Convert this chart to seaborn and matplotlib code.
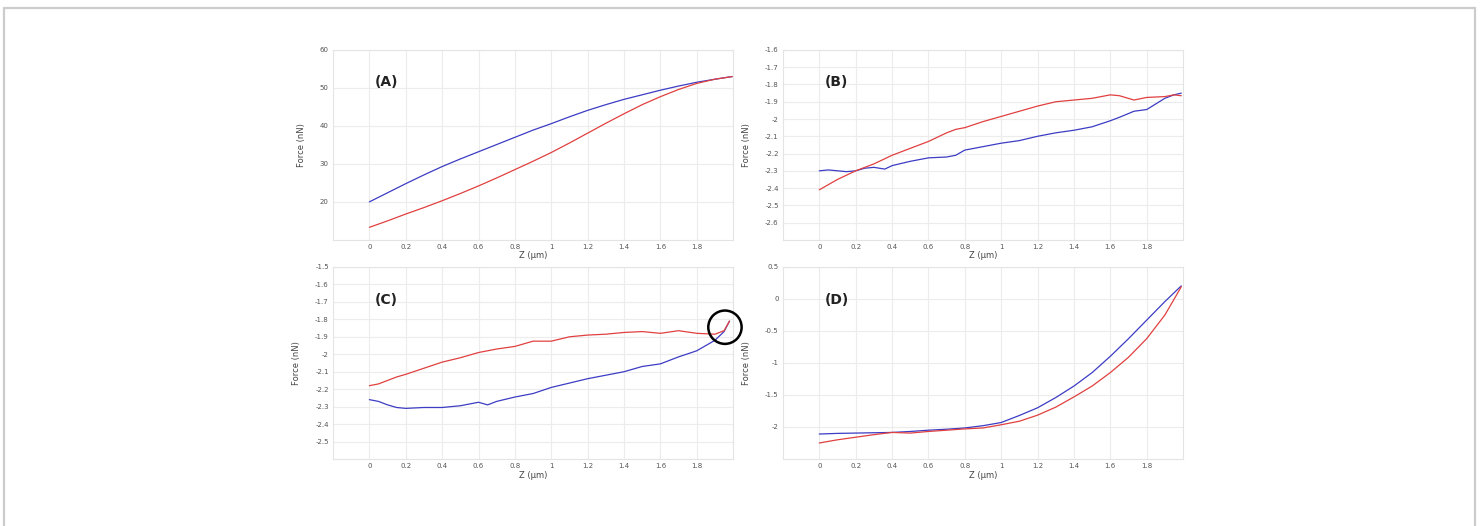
import numpy as np
import pandas as pd
import matplotlib
matplotlib.use("Agg")
import matplotlib.pyplot as plt
import seaborn as sns
from matplotlib.patches import Rectangle
from matplotlib.ticker import FuncFormatter

BLUE = '#3c3cc4'
RED = '#e0403f'

# (A) smooth approach / retract curves
z_a = [0.0, 0.1, 0.2, 0.3, 0.4, 0.5, 0.6, 0.7, 0.8, 0.9, 1.0,
       1.1, 1.2, 1.3, 1.4, 1.5, 1.6, 1.7, 1.8, 1.9, 1.995]
approach_a = [20.0, 22.4, 24.8, 27.1, 29.3, 31.3, 33.2, 35.1, 37.0, 38.9, 40.6,
              42.4, 44.1, 45.6, 47.0, 48.2, 49.4, 50.5, 51.5, 52.3, 53.0]
retract_a = [13.3, 15.0, 16.8, 18.5, 20.3, 22.2, 24.2, 26.3, 28.5, 30.7, 33.0,
             35.5, 38.1, 40.7, 43.2, 45.6, 47.7, 49.6, 51.2, 52.3, 53.0]

# (B)
z_b = [0.0, 0.05, 0.1, 0.15, 0.2, 0.25, 0.3, 0.36, 0.4, 0.5, 0.6, 0.7, 0.75, 0.8,
       0.9, 1.0, 1.1, 1.2, 1.3, 1.4, 1.5, 1.6, 1.65, 1.73, 1.8, 1.9, 1.95, 1.99]
approach_b = [-2.300, -2.295, -2.300, -2.305, -2.300, -2.285, -2.280, -2.290, -2.270,
              -2.245, -2.225, -2.220, -2.210, -2.180, -2.160, -2.140, -2.125, -2.100,
              -2.080, -2.065, -2.045, -2.010, -1.990, -1.955, -1.945, -1.880, -1.860, -1.850]
retract_b = [-2.410, -2.380, -2.350, -2.325, -2.300, -2.280, -2.260, -2.230, -2.210,
             -2.170, -2.130, -2.080, -2.060, -2.050, -2.015, -1.985, -1.955, -1.925,
             -1.900, -1.890, -1.880, -1.860, -1.865, -1.890, -1.875, -1.870, -1.860, -1.865]

# (C)
z_c = [0.0, 0.05, 0.1, 0.15, 0.2, 0.3, 0.4, 0.5, 0.6, 0.65, 0.7, 0.8, 0.9, 1.0,
       1.1, 1.2, 1.3, 1.4, 1.5, 1.6, 1.7, 1.8, 1.9, 1.95, 1.98]
approach_c = [-2.260, -2.270, -2.290, -2.305, -2.310, -2.305, -2.305, -2.295, -2.275,
              -2.290, -2.270, -2.245, -2.225, -2.190, -2.165, -2.140, -2.120, -2.100,
              -2.070, -2.055, -2.015, -1.980, -1.920, -1.870, -1.810]
retract_c = [-2.180, -2.170, -2.150, -2.130, -2.115, -2.080, -2.045, -2.020, -1.990,
             -1.980, -1.970, -1.955, -1.925, -1.925, -1.900, -1.890, -1.885, -1.875,
             -1.870, -1.880, -1.865, -1.880, -1.885, -1.865, -1.810]
circle_z, circle_f = 1.955, -1.845

# (D)
z_d = [0.0, 0.1, 0.2, 0.3, 0.4, 0.5, 0.6, 0.7, 0.8, 0.9, 1.0,
       1.1, 1.2, 1.3, 1.4, 1.5, 1.6, 1.7, 1.8, 1.9, 1.99]
approach_d = [-2.110, -2.100, -2.095, -2.090, -2.085, -2.070, -2.050, -2.035, -2.015,
              -1.980, -1.930, -1.820, -1.700, -1.540, -1.360, -1.150, -0.895, -0.620,
              -0.330, -0.040, 0.205]
retract_d = [-2.250, -2.200, -2.160, -2.120, -2.085, -2.095, -2.070, -2.050, -2.030,
             -2.015, -1.965, -1.910, -1.815, -1.690, -1.530, -1.360, -1.150, -0.910,
             -0.620, -0.250, 0.190]

x_ticks = [0, 0.2, 0.4, 0.6, 0.8, 1, 1.2, 1.4, 1.6, 1.8]

panels = [
    ('(A)', z_a, approach_a, retract_a, (10, 60), [20, 30, 40, 50, 60]),
    ('(B)', z_b, approach_b, retract_b, (-2.7, -1.6), list(np.round(np.arange(-2.6, -1.55, 0.1), 1))),
    ('(C)', z_c, approach_c, retract_c, (-2.6, -1.5), list(np.round(np.arange(-2.5, -1.45, 0.1), 1))),
    ('(D)', z_d, approach_d, retract_d, (-2.5, 0.5), [-2, -1.5, -1, -0.5, 0, 0.5]),
]

sns.set_style('white')
plt.rcParams['font.family'] = ['DejaVu Sans']

fig = plt.figure(figsize=(14.82, 5.26), dpi=100)
# light card frame around the figure (open at the bottom)
fig.patches.append(Rectangle((4 / 1482, -0.1), 1471 / 1482, 1 - 8 / 526 + 0.1,
                             transform=fig.transFigure, fill=False,
                             edgecolor='#cccccc', linewidth=1.6, zorder=0))

positions = [
    [0.2247, 0.544, 0.270, 0.361],
    [0.5283, 0.544, 0.270, 0.361],
    [0.2247, 0.1274, 0.270, 0.365],
    [0.5283, 0.1274, 0.270, 0.365],
]

fmt = FuncFormatter(lambda v, _: '{:g}'.format(round(v, 2)))

for (label, z, appr, retr, ylim, yticks), pos in zip(panels, positions):
    ax = fig.add_axes(pos)
    df = pd.DataFrame({
        'z': list(z) * 2,
        'force': list(appr) + list(retr),
        'curve': ['approach'] * len(z) + ['retract'] * len(z),
    })
    sns.lineplot(data=df, x='z', y='force', hue='curve', estimator=None, sort=False,
                 palette={'approach': BLUE, 'retract': RED}, linewidth=0.9,
                 legend=False, ax=ax)
    ax.set_xlim(-0.2, 2.0)
    ax.set_ylim(*ylim)
    ax.set_xticks(x_ticks)
    ax.set_yticks(yticks)
    ax.xaxis.set_major_formatter(fmt)
    ax.yaxis.set_major_formatter(fmt)
    ax.grid(True, color='#ececec', linewidth=0.8)
    ax.set_axisbelow(True)
    for s in ax.spines.values():
        s.set_color('#e4e4e4')
        s.set_linewidth(0.8)
    ax.tick_params(length=0, labelsize=5, colors='#555555', pad=3)
    ax.set_xlabel('Z (\u00b5m)', fontsize=6, color='#444444', labelpad=1)
    ax.set_ylabel('Force (nN)', fontsize=6, color='#444444', labelpad=10)
    ax.text(0.105, 0.83, label, transform=ax.transAxes, fontsize=10,
            fontweight='bold', color='#222222', va='center', ha='left')
    if label == '(C)':
        ax.scatter([circle_z], [circle_f], s=24 ** 2, facecolors='none',
                   edgecolors='black', linewidths=1.8, clip_on=False, zorder=5)

fig.savefig('out.png', dpi=100)
